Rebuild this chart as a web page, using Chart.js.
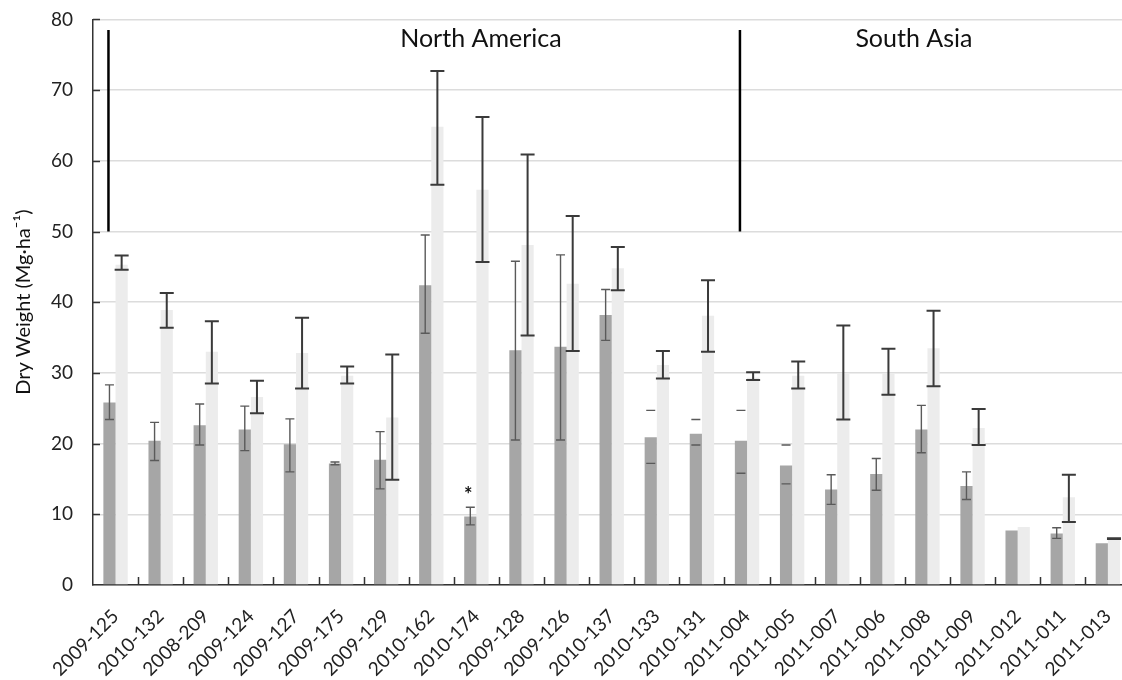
<!DOCTYPE html>
<html>
<head>
<meta charset="utf-8">
<script src="https://cdn.jsdelivr.net/npm/chart.js@4.4.0/dist/chart.umd.min.js"></script>
<style>
body { margin: 0; overflow: hidden; background: #fff; }
#wrap { width: 1144px; height: 692px; margin-top: -12px; }
</style>
</head>
<body>
<div id="wrap"><canvas id="myChart"></canvas></div>
<script>
var lines = ['2009-125', '2010-132', '2008-209', '2009-124', '2009-127', '2009-175', '2009-129',
    '2010-162', '2010-174', '2009-128', '2009-126', '2010-137', '2010-133', '2010-131',
    '2011-004', '2011-005', '2011-007', '2011-006', '2011-008', '2011-009', '2011-012',
    '2011-011', '2011-013'];

var dark = [25.8, 20.4, 22.6, 22.0, 19.9, 17.2, 17.7, 42.4, 9.7, 33.2, 33.7, 38.2, 20.9, 21.4,
    20.4, 16.9, 13.5, 15.7, 22.0, 14.0, 7.7, 7.3, 5.9];
var darkLow = [23.4, 17.6, 19.8, 19.0, 16.0, 17.0, 13.6, 35.6, 8.5, 20.5, 20.5, 34.6, 17.2, 19.8,
    15.8, 14.3, 11.4, 13.4, 18.7, 12.1, null, 6.6, null];
var darkHigh = [28.3, 23.0, 25.6, 25.3, 23.5, 17.4, 21.7, 49.5, 11.0, 45.8, 46.7, 41.8, 24.7, 23.4,
    24.7, 19.8, 15.6, 17.9, 25.4, 16.0, null, 8.1, null];

var light = [45.3, 38.9, 33.0, 26.6, 32.8, 29.6, 23.7, 64.8, 55.9, 48.1, 42.6, 44.8, 31.1, 38.1,
    29.3, 29.6, 29.9, 29.9, 33.5, 22.2, 8.2, 12.4, 6.5];
var lightLow = [44.6, 36.4, 28.5, 24.3, 27.8, 28.5, 14.9, 56.6, 45.7, 35.3, 33.1, 41.7, 29.2, 33.0,
    29.0, 27.8, 23.4, 26.9, 28.1, 19.8, null, 8.9, 6.5];
var lightHigh = [46.6, 41.3, 37.3, 28.9, 37.8, 30.9, 32.6, 72.7, 66.2, 60.9, 52.2, 47.8, 33.1, 43.1,
    30.1, 31.6, 36.7, 33.4, 38.8, 24.9, null, 15.6, 6.6];

// error bars drawn as caps only (stem not visible in the original)
var capOnly = ['2010-133', '2010-131', '2011-004', '2011-005'];
var starred = ['2010-174'];

var regions = ['North America', 'South Asia'];
var regionStart = ['2009-125', '2011-004'];
var regionLabelAt = [8.1, 17.7];

var yMin = 0, yMax = 80, yStep = 10;

var errorBars = {
    id: 'errorBars',
    afterDatasetsDraw: function (chart) {
        var ctx = chart.ctx;
        var ys = chart.scales.y, xs = chart.scales.x;
        var area = chart.chartArea;
        var sets = [
            [darkLow, darkHigh, 4.5, '#5a5a5a', 1.4],
            [lightLow, lightHigh, 7, '#3a3a3a', 2]
        ];
        ctx.save();
        sets.forEach(function (s, i) {
            var meta = chart.getDatasetMeta(i);
            meta.data.forEach(function (bar, j) {
                if (s[0][j] == null) return;
                var x = bar.x;
                var y1 = ys.getPixelForValue(s[0][j]);
                var y2 = ys.getPixelForValue(s[1][j]);
                ctx.strokeStyle = s[3];
                ctx.lineWidth = s[4];
                ctx.beginPath();
                if (!(i === 0 && capOnly.indexOf(lines[j]) >= 0)) {
                    ctx.moveTo(x, y1);
                    ctx.lineTo(x, y2);
                }
                ctx.moveTo(x - s[2], y1);
                ctx.lineTo(x + s[2], y1);
                ctx.moveTo(x - s[2], y2);
                ctx.lineTo(x + s[2], y2);
                ctx.stroke();
            });
        });

        // asterisk
        ctx.fillStyle = '#111';
        ctx.font = 'bold 20px Lato';
        ctx.textAlign = 'center';
        ctx.textBaseline = 'middle';
        starred.forEach(function (name) {
            var j = lines.indexOf(name);
            var bar = chart.getDatasetMeta(0).data[j];
            ctx.fillText('*', bar.x - 2, ys.getPixelForValue(darkHigh[j] + 2.2) + 4);
        });

        // inward ticks on both axes
        ctx.strokeStyle = '#333';
        ctx.lineWidth = 1.5;
        ctx.beginPath();
        for (var i = 1; i <= lines.length; i++) {
            var tx = Math.round(xs.getPixelForValue(i - 0.5)) + 0.5;
            ctx.moveTo(tx, area.bottom);
            ctx.lineTo(tx, area.bottom - 8);
        }
        for (var v = yMin + yStep; v <= yMax; v += yStep) {
            var ty = Math.round(ys.getPixelForValue(v)) + 0.5;
            ctx.moveTo(area.left, ty);
            ctx.lineTo(area.left + 7, ty);
        }
        ctx.stroke();

        // region dividers and labels
        ctx.strokeStyle = '#000';
        ctx.lineWidth = 2.5;
        regionStart.forEach(function (name) {
            var bar = chart.getDatasetMeta(0).data[lines.indexOf(name)];
            ctx.beginPath();
            ctx.moveTo(bar.x - 1, ys.getPixelForValue(78.5));
            ctx.lineTo(bar.x - 1, ys.getPixelForValue(50));
            ctx.stroke();
        });
        ctx.font = '25px Lato';
        ctx.fillStyle = '#111';
        regions.forEach(function (name, k) {
            ctx.fillText(name, xs.getPixelForValue(regionLabelAt[k]), ys.getPixelForValue(77.2));
        });
        ctx.restore();
    }
};

var ctx = document.getElementById('myChart').getContext('2d');

var myChart = new Chart(ctx, {
    type: 'bar',
    data: {
        labels: lines,
        datasets: [{
            label: 'dark',
            data: dark,
            backgroundColor: '#a6a6a6'
        }, {
            label: 'light',
            data: light,
            backgroundColor: '#ececec'
        }]
    },
    options: {
        responsive: true,
        maintainAspectRatio: false,
        animation: false,
        categoryPercentage: 0.54,
        barPercentage: 1.0,
        layout: { padding: { top: 0, right: 0, left: 0, bottom: 0 } },
        plugins: {
            legend: { display: false },
            tooltip: { enabled: false }
        },
        scales: {
            x: {
                grid: { drawOnChartArea: false, drawTicks: false },
                border: { display: true, color: '#333', width: 1.5 },
                ticks: {
                    color: '#222',
                    font: { family: 'Lato', size: 19 },
                    maxRotation: 45,
                    minRotation: 45,
                    autoSkip: false,
                    padding: 20
                },
                afterFit: function (scale) { scale.height = 95; }
            },
            y: {
                min: yMin,
                max: yMax,
                ticks: {
                    stepSize: yStep,
                    color: '#222',
                    font: { family: 'Lato', size: 19 },
                    padding: 20
                },
                grid: { color: '#dcdcdc', lineWidth: 1.5, drawTicks: false },
                border: { display: true, color: '#333', width: 1.5 },
                title: {
                    display: true,
                    text: 'Dry Weight (Mg·ha⁻¹)',
                    color: '#111',
                    font: { family: 'Lato', size: 20 },
                    padding: { top: 12, bottom: 0 }
                },
                afterFit: function (scale) { scale.width = 93; }
            }
        }
    },
    plugins: [errorBars]
});
</script>
</body>
</html>
